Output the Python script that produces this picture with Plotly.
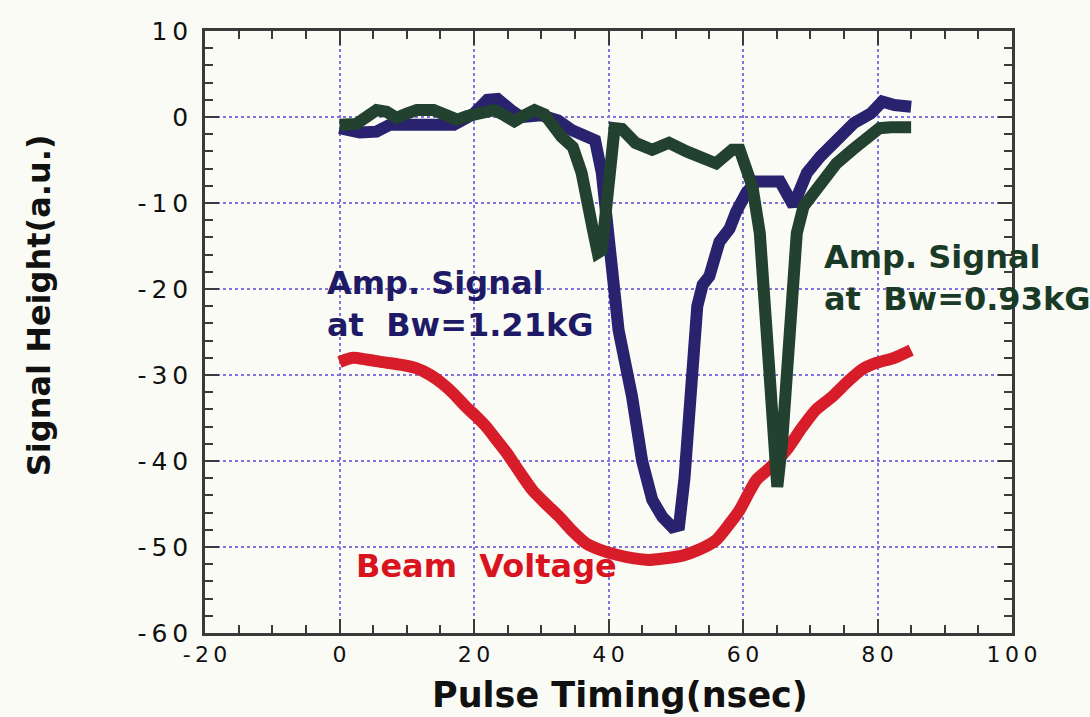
import plotly.graph_objects as go

# ---- data ----
blue_x = [0, 1.5, 3, 5.5, 7.5, 10, 12, 14, 17, 20, 22, 23.5, 25.5, 27, 30, 32.5, 34.5, 36.5, 38, 39,
          40, 41.5, 43.5, 45, 46.5, 48, 49.5, 50.5, 51.3, 52, 52.7, 53.2, 54, 55, 56.5, 58, 59, 60.5,
          62, 64, 65.5, 67.5, 69.5, 71.5, 74, 76.5, 79, 80.7, 82.5, 85]
blue_y = [-1.3, -1.6, -1.8, -1.7, -0.9, -0.9, -1.0, -0.9, -0.9, 0.4, 2.0, 2.1, 0.8, 0.0, 0.2, -0.4, -1.5, -2.1, -2.7, -6.5,
          -12.8, -24.8, -32.5, -40.0, -44.5, -46.5, -47.7, -47.5, -42.0, -36.0, -28.0, -22.0, -19.5, -18.5, -14.5, -13.0, -11.0, -8.8,
          -7.5, -7.6, -7.5, -10.3, -6.5, -4.6, -2.7, -0.7, 0.4, 1.8, 1.4, 1.2]

green_x = [0, 2.5, 4, 5.5, 7, 8.5, 10, 11.5, 14, 16, 17.5, 19, 20.5, 23, 24.5, 26, 27.5, 29, 30.5, 31.5,
           33, 34.7, 36, 37.6, 38.4, 39, 39.7, 40.9, 42, 44, 46.5, 49, 51.6, 54, 56, 58.4, 59.5, 61.4,
           62.5, 63.5, 64.5, 65.1, 65.8, 67.2, 68, 69, 71.4, 73.9, 76.3, 78.4, 80.3, 82, 85]
green_y = [-0.9, -0.8, 0.0, 0.8, 0.6, -0.1, 0.4, 0.8, 0.8, 0.2, -0.3, 0.1, 0.5, 0.8, 0.2, -0.5, 0.2, 0.8, 0.3, -1.0,
           -2.3, -3.5, -6.5, -12.8, -15.8, -15.5, -9.7, -1.3, -1.4, -3.0, -3.8, -3.0, -4.0, -4.6, -5.4, -3.8, -3.8, -8.1,
           -13.5, -24.8, -38.0, -43.0, -38.0, -24.8, -13.5, -10.4, -8.1, -5.4, -3.8, -2.3, -1.3, -1.2, -1.2]

red_x = [0, 1, 2, 4, 6.4, 9, 11.4, 13.5, 15.3, 17, 18.8, 20.3, 21.8, 23.3, 24.8, 26.8, 28.7, 30.7, 32.7, 34.7,
         36.7, 39, 41.2, 43.6, 46, 48.5, 51, 53.5, 56, 58, 59.5, 61, 62, 64, 66.5, 68.7, 70.9, 73.3, 75.8,
         77.8, 79.8, 82.5, 85]
red_y = [-28.5, -28.2, -28.0, -28.2, -28.5, -28.8, -29.2, -30.0, -31.0, -32.2, -33.7, -34.8, -36.0, -37.5, -39.0, -41.3,
         -43.4, -45.0, -46.5, -48.2, -49.6, -50.4, -50.9, -51.3, -51.5, -51.3, -51.0, -50.3, -49.2, -47.3, -45.7, -43.5,
         -42.2, -40.8, -38.7, -36.2, -34.0, -32.5, -30.6, -29.3, -28.6, -28.0, -27.1]

x_tickvals = [-20, 0, 20, 40, 60, 80, 100]
x_ticktext = ["-\u20092\u20090", "0", "2\u20090", "4\u20090", "6\u20090", "8\u20090", "1\u20090\u20090"]
y_tickvals = [10, 0, -10, -20, -30, -40, -50, -60]
y_ticktext = ["1\u20090", "0", "-\u20091\u20090", "-\u20092\u20090", "-\u20093\u20090",
              "-\u20094\u20090", "-\u20095\u20090", "-\u20096\u20090"]

x_title = "Pulse Timing(nsec)"
y_title = "Signal Height(a.u.)"
label_blue = "Amp. Signal<br>at\u00a0\u00a0Bw=1.21kG"
label_green = "Amp. Signal<br>at\u00a0\u00a0Bw=0.93kG"
label_red = "Beam\u00a0\u00a0Voltage"

BLUE = "#29226f"
GREEN = "#22412e"
RED = "#d81d2a"
BG = "#fbfbf6"
GRID = "#8474e0"
AX = "#3a3a3a"

fig = go.Figure()
fig.add_trace(go.Scatter(x=red_x, y=red_y, mode="lines", line=dict(color=RED, width=12, shape="spline", smoothing=0.6),
                         showlegend=False))
fig.add_trace(go.Scatter(x=blue_x, y=blue_y, mode="lines", line=dict(color=BLUE, width=12), showlegend=False))
fig.add_trace(go.Scatter(x=green_x, y=green_y, mode="lines", line=dict(color=GREEN, width=12), showlegend=False))

common = dict(
    ticks="inside", ticklen=14, tickwidth=2, tickcolor=AX,
    showline=True, linewidth=2.5, linecolor=AX, mirror="allticks",
    showgrid=True, gridcolor=GRID, griddash="dot", gridwidth=1.5, zeroline=False,
)
fig.update_xaxes(range=[-20, 100], tickmode="array", tickvals=x_tickvals, ticktext=x_ticktext,
                 minor=dict(dtick=5, tick0=0, ticks="inside", ticklen=8, tickwidth=1.5, tickcolor=AX, showgrid=False),
                 tickfont=dict(family="DejaVu Sans", size=22, color="#111"),
                 **common)
fig.update_yaxes(range=[-60, 10], tickmode="array", tickvals=y_tickvals, ticktext=y_ticktext,
                 minor=dict(dtick=2, tick0=0, ticks="inside", ticklen=8, tickwidth=1.5, tickcolor=AX, showgrid=False),
                 tickfont=dict(family="DejaVu Sans", size=25, color="#111"),
                 ticklabelstandoff=9,
                 **common)

ann_font = dict(family="DejaVu Sans", size=32, weight="bold")
fig.add_annotation(x=0.514, y=-0.103, xref="paper", yref="paper", text=x_title, showarrow=False,
                   xanchor="center", yanchor="middle",
                   font=dict(family="DejaVu Sans", size=35, weight="bold", color="#111"))
fig.add_annotation(x=-0.206, y=0.544, xref="paper", yref="paper", text=y_title, showarrow=False,
                   textangle=-90, xanchor="center", yanchor="middle",
                   font=dict(family="DejaVu Sans", size=32, weight="bold", color="#111"))
fig.add_annotation(x=-2.2, y=-21.7, text=label_blue, showarrow=False, xanchor="left", yanchor="middle",
                   align="left", font=dict(color="#1e1a66", **ann_font))
fig.add_annotation(x=71.7, y=-18.7, text=label_green, showarrow=False, xanchor="left", yanchor="middle",
                   align="left", font=dict(color="#1a3a28", **ann_font))
fig.add_annotation(x=2.2, y=-52.2, text=label_red, showarrow=False, xanchor="left", yanchor="middle",
                   align="left", font=dict(color="#d9141e", **ann_font))

fig.update_layout(
    width=1090, height=717,
    margin=dict(l=205, r=78, t=31, b=84),
    paper_bgcolor=BG, plot_bgcolor=BG,
    showlegend=False,
)
fig.write_html("out.html")
